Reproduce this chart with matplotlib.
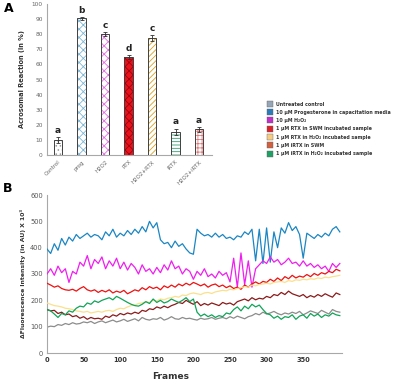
import matplotlib
matplotlib.use("Agg")
import matplotlib.pyplot as plt
from matplotlib.patches import Rectangle
import numpy as np

# ---------------- Panel A data ----------------
bar_labels = ["Control", "prog", "H2O2", "RTX", "H2O2+RTX", "iRTX", "H2O2+iRTX"]
bar_values = [10.0, 90.5, 80.0, 65.0, 77.5, 15.5, 17.0]
bar_errors = [2.0, 1.0, 1.5, 1.5, 1.8, 2.0, 1.5]
bar_letters = ["a", "b", "c", "d", "c", "a", "a"]

# ---------------- Panel B data (every 5 frames) ----------------
frames = list(range(0, 401, 5))
prog = [395, 378, 415, 390, 435, 410, 440, 425, 450, 435,
        445, 455, 440, 450, 445, 430, 460, 445, 470, 440,
        455, 445, 465, 450, 470, 455, 480, 460, 500, 475,
        495, 430, 415, 420, 400, 425, 405, 415, 395, 380,
        375, 470, 455, 445, 450, 440, 455, 440, 450, 435,
        440, 430, 445, 440, 460, 450, 470, 350, 470, 340,
        475, 345, 460, 400, 475, 455, 495, 465, 480, 450,
        360, 455, 445, 435, 450, 440, 455, 445, 470, 480, 460]
h2o2 = [300, 320, 295, 330, 305, 320, 268, 310, 300, 345,
        330, 370, 320, 355, 340, 365, 320, 350, 330, 360,
        320, 345, 315, 340, 325, 300, 335, 310, 320, 300,
        325, 305, 335, 315, 350, 320, 330, 300, 320, 310,
        280, 310, 295, 320, 290, 300, 285, 310, 295, 305,
        270, 360, 250, 380, 260, 350, 250, 320, 335, 350,
        340, 365, 345, 355, 335, 345, 360, 340, 345, 330,
        350, 330, 340, 325, 335, 320, 330, 310, 340, 325, 340]
rtx_swm = [265, 258, 250, 255, 245, 240, 238, 242, 235, 245,
           252, 240, 235, 240, 230, 238, 232, 240, 228, 235,
           230, 238, 225, 232, 240, 235, 248, 240, 252, 245,
           250, 240, 255, 248, 258, 250, 262, 255, 265, 258,
           268, 262, 255, 262, 250, 258, 262, 252, 258, 248,
           255, 245, 250, 242, 258, 250, 262, 270, 262, 272,
           268, 280, 272, 285, 275, 290, 282, 295, 285, 292,
           288, 298, 290, 302, 295, 305, 300, 310, 305, 318, 312]
rtx_h2o2 = [190, 185, 180, 178, 175, 170, 168, 165, 160, 158,
            155, 158, 152, 155, 158, 155, 160, 162, 158, 165,
            170, 168, 175, 180, 182, 188, 190, 195, 192, 200,
            198, 205, 202, 208, 210, 215, 212, 220, 218, 225,
            228, 225, 222, 228, 230, 226, 232, 235, 238, 236,
            242, 240, 245, 248, 252, 250, 258, 255, 260, 262,
            265, 262, 268, 270, 272, 268, 275, 272, 278, 276,
            280, 278, 282, 280, 285, 283, 288, 286, 290, 292, 295]
irtx_swm = [165, 160, 162, 150, 155, 145, 148, 138, 142, 132,
            138, 128, 135, 130, 132, 128, 140, 135, 145, 140,
            150, 145, 152, 148, 155, 150, 162, 158, 168, 165,
            175, 170, 178, 172, 180, 185, 192, 188, 200, 192,
            185, 195, 180, 188, 182, 190, 185, 180, 192, 186,
            190, 182, 195, 200, 205, 198, 210, 202, 208, 205,
            215, 210, 222, 218, 230, 222, 235, 225, 220, 215,
            222, 210, 218, 212, 222, 215, 225, 218, 212, 228, 222]
irtx_h2o2 = [165, 160, 148, 135, 150, 145, 160, 155, 170, 178,
             175, 190, 185, 198, 192, 200, 205, 210, 202, 215,
             208, 200, 192, 185, 180, 178, 185, 195, 188, 205,
             192, 200, 190, 195, 205, 198, 192, 200, 210, 195,
             205, 155, 140, 148, 138, 145, 135, 142, 138, 152,
             148, 165, 175, 160, 178, 168, 185, 175, 182, 165,
             150, 145, 132, 140, 128, 138, 135, 145, 128, 140,
             145, 132, 150, 140, 148, 135, 145, 140, 152, 145, 142]
control = [98, 102, 100, 108, 105, 112, 108, 115, 110, 112,
           118, 115, 120, 112, 118, 122, 115, 120, 125, 118,
           122, 128, 120, 125, 130, 122, 135, 128, 125, 130,
           128, 135, 125, 130, 138, 130, 128, 135, 130, 132,
           128, 125, 132, 128, 130, 135, 128, 132, 135, 130,
           138, 132, 140, 135, 130, 138, 142, 150, 145, 155,
           148, 152, 158, 150, 145, 152, 148, 155, 150, 158,
           145, 152, 160, 155, 150, 162, 155, 148, 165, 158, 155]

legend_labels = ["Untreated control",
                 "10 µM Progesterone in capacitation media",
                 "10 µM H₂O₂",
                 "1 µM RTX in SWM incubated sample",
                 "1 µM RTX in H₂O₂ incubated sample",
                 "1 µM iRTX in SWM",
                 "1 µM iRTX in H₂O₂ incubated sample"]
legend_colors = ["#94A6B8", "#2B7BBA", "#C22FC8", "#D8232A",
                 "#F6CB82", "#D0603E", "#1FA065"]

W, H = 400, 382
fig = plt.figure(figsize=(4.0, 3.82), dpi=100)
plt.rcParams['hatch.linewidth'] = 0.6

def fx(px):
    return px / W
def fy(py):
    return 1 - py / H

# ---------------- Panel A ----------------
axA = fig.add_axes([fx(47), fy(155), fx(212) - fx(47), fy(4) - fy(155)])
x = np.arange(len(bar_labels))
faces = ["white", "white", "white", "#E8141B", "white", "white", "white"]
hcols = ["#9A9A9A", "#7DB7D6", "#E46FE4", "#A00010", "#D9A21C", "#2FA06E", "#E07A7A"]
hatches = ["....", "xxxx", "xxxx", "xxxx", "//////", "-----", "++++"]
for i in range(len(x)):
    axA.bar(x[i], bar_values[i], width=0.36, color=faces[i], hatch=hatches[i],
            edgecolor=hcols[i], linewidth=0, zorder=2)
    axA.bar(x[i], bar_values[i], width=0.36, fill=False, edgecolor="#404040",
            linewidth=0.7, zorder=3)
axA.errorbar(x, bar_values, yerr=bar_errors, fmt="none", ecolor="#303030",
             elinewidth=0.6, capsize=1.5, capthick=0.6, zorder=4)
for i in range(len(x)):
    axA.annotate(bar_letters[i], (x[i], bar_values[i] + bar_errors[i]),
                 xytext=(0, 1.5), textcoords="offset points", ha="center",
                 va="bottom", fontsize=6.5, fontweight="bold", color="#222222")
axA.set_xlim(-0.47, 6.55)
axA.set_ylim(0, 100)
axA.set_yticks(range(0, 101, 10))
axA.tick_params(axis="y", labelsize=4.2, labelcolor="#666666", length=0, pad=3)
axA.set_xticks(x)
axA.set_xticklabels(bar_labels, rotation=45, ha="right", rotation_mode="anchor",
                    fontsize=4.0, color="#666666")
axA.tick_params(axis="x", length=0, pad=3)
for s in ["top", "right"]:
    axA.spines[s].set_visible(False)
for s in ["left", "bottom"]:
    axA.spines[s].set_color("#A8A8A8")
    axA.spines[s].set_linewidth(0.8)
axA.set_ylabel("Acrosomal Reaction (in %)", fontsize=4.8, fontweight="bold",
               color="#333333", labelpad=5)

# Legend drawn manually in figure coordinates
for i, (lab, col) in enumerate(zip(legend_labels, legend_colors)):
    yc = 104 + 8.3 * i
    fig.add_artist(Rectangle((fx(267), fy(yc + 2.8)), fx(6), 6 / H,
                             facecolor=col, edgecolor="#666666", linewidth=0.3,
                             transform=fig.transFigure))
    fig.text(fx(276), fy(yc), lab, fontsize=3.45, fontweight="bold",
             color="#333333", va="center", ha="left")

# ---------------- Panel B ----------------
axB = fig.add_axes([fx(47), fy(353), fx(342) - fx(47), fy(195) - fy(353)])
series = [control, prog, h2o2, rtx_swm, rtx_h2o2, irtx_swm, irtx_h2o2]
line_colors = ["#8C8C8C", "#1A86C4", "#F01DF0", "#F01010", "#FBE08C",
               "#8B1A1A", "#0FA458"]
order = [4, 0, 5, 6, 3, 2, 1]
for k in order:
    axB.plot(frames, series[k], color=line_colors[k], linewidth=0.9, zorder=2 + k)
axB.set_xlim(0, 403)
axB.set_ylim(0, 600)
axB.set_xticks(range(0, 351, 50))
axB.set_yticks(range(0, 601, 100))
axB.tick_params(axis="both", labelsize=4.8, length=0, pad=3)
for lab in axB.get_xticklabels():
    lab.set_fontweight("bold")
    lab.set_color("#333333")
for lab in axB.get_yticklabels():
    lab.set_color("#555555")
for s in ["top", "right"]:
    axB.spines[s].set_visible(False)
for s in ["left", "bottom"]:
    axB.spines[s].set_color("#A8A8A8")
    axB.spines[s].set_linewidth(0.8)
axB.set_ylabel("ΔFluorescence Intensity (in AU) X 10³", fontsize=4.4,
               fontweight="bold", color="#333333", labelpad=3)
axB.set_xlabel("Frames", fontsize=6.5, fontweight="bold", color="#333333")
axB.xaxis.set_label_coords(0.42, -0.12)

fig.text(fx(4), fy(9), "A", fontsize=9, fontweight="bold", va="center", ha="left")
fig.text(fx(3), fy(188), "B", fontsize=9, fontweight="bold", va="center", ha="left")

fig.savefig("out.png", dpi=100)
